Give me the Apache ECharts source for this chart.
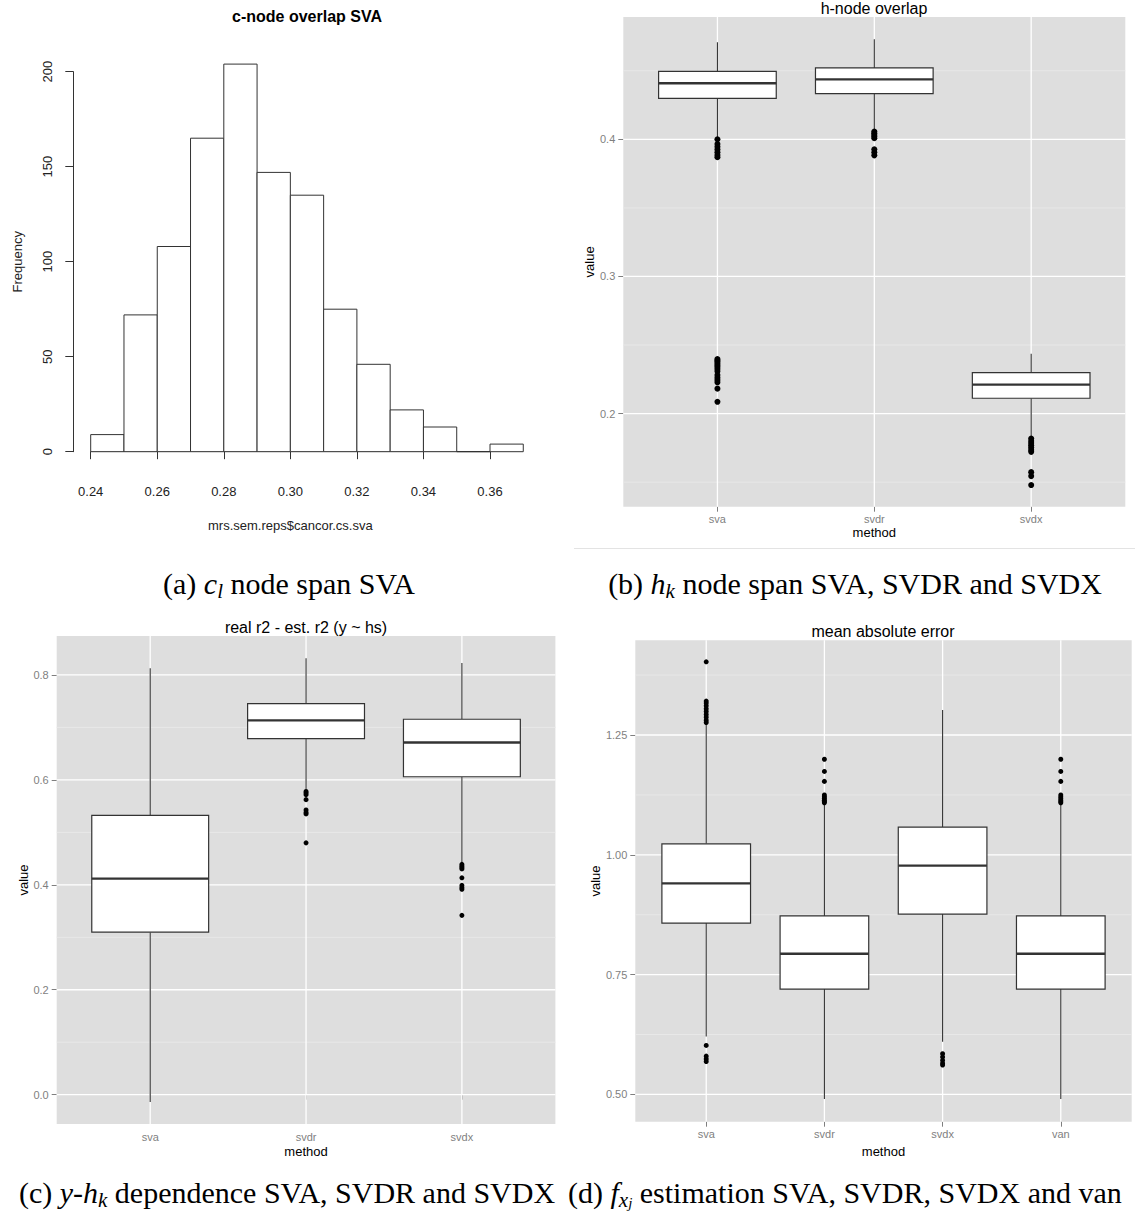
<!DOCTYPE html>
<html><head><meta charset="utf-8">
<script src="https://cdn.jsdelivr.net/npm/echarts@6/dist/echarts.min.js"></script>
<style>html,body{margin:0;padding:0;background:#fff}#c{width:1135px;height:1216px}</style>
</head><body><div id="c"></div>
<script>
// ---------- (a) histogram ----------
const histBinStarts = [0.24,0.25,0.26,0.27,0.28,0.29,0.30,0.31,0.32,0.33,0.34,0.35,0.36];
const histCounts    = [9,72,108,165,204,147,135,75,46,22,13,0,4];
const histBinWidth  = 0.01;

// ---------- (b) h-node overlap ----------
const hnodeMethods = ['sva','svdr','svdx'];
// [lower whisker, Q1, median, Q3, upper whisker]
const hnodeBoxes = [
  [0.4015, 0.4299, 0.4409, 0.4495, 0.4708],
  [0.4075, 0.4333, 0.4437, 0.4521, 0.4729],
  [0.1818, 0.2112, 0.2211, 0.2299, 0.2437]
];
const hnodeOutliers = [
  [0.4000,0.3965,0.3945,0.3925,0.3905,0.3885,0.3870,0.2398,0.2388,0.2378,0.2365,0.2352,0.2340,0.2325,0.2308,0.2281,0.2262,0.2245,0.2228,0.2182,0.2086],
  [0.4057,0.4045,0.4032,0.4020,0.4008,0.3927,0.3905,0.3883],
  [0.1818,0.1800,0.1785,0.1770,0.1752,0.1735,0.1721,0.1573,0.1544,0.1479]
];
const hnodeTicks = [0.2,0.3,0.4];
const hnodeMinor = [0.15,0.25,0.35,0.45];

// ---------- (c) real r2 - est. r2 ----------
const r2Methods = ['sva','svdr','svdx'];
const r2Boxes = [
  [-0.0142, 0.3098, 0.4120, 0.5324, 0.8130],
  [0.5820, 0.6788, 0.7135, 0.7455, 0.8320],
  [0.4419, 0.6060, 0.6713, 0.7156, 0.8230]
];
const r2Outliers = [
  [],
  [0.5780,0.5750,0.5719,0.5624,0.5427,0.5380,0.5352,0.4800],
  [0.4390,0.4360,0.4330,0.4303,0.4133,0.3990,0.3950,0.3915,0.3418]
];
const r2Ticks = [0.0,0.2,0.4,0.6,0.8];
const r2Minor = [0.1,0.3,0.5,0.7];

// ---------- (d) mean absolute error ----------
const maeMethods = ['sva','svdr','svdx','van'];
const maeBoxes = [
  [0.6207, 0.8576, 0.9402, 1.0229, 1.2720],
  [0.4904, 0.7198, 0.7935, 0.8725, 1.1050],
  [0.6096, 0.8762, 0.9775, 1.0579, 1.3021],
  [0.4904, 0.7198, 0.7935, 0.8725, 1.1050]
];
const maeOutliers = [
  [1.4027,1.3207,1.3165,1.3110,1.3050,1.2990,1.2930,1.2870,1.2810,1.2760,0.6022,0.5798,0.5740,0.5686],
  [1.1994,1.1740,1.1532,1.1249,1.1210,1.1175,1.1140,1.1110,1.1085],
  [0.5850,0.5780,0.5710,0.5650,0.5612],
  [1.1994,1.1740,1.1532,1.1249,1.1210,1.1175,1.1140,1.1110,1.1085]
];
const maeTicks = [0.50,0.75,1.00,1.25];
const maeMinor = [0.625,0.875,1.125,1.375];

// ---------- chart ----------
const SANS = 'Liberation Sans, Arial, Helvetica, sans-serif';
const SERIF = 'Liberation Serif, Times New Roman, serif';
const tickLabel = {fontFamily: SANS, fontSize: 11, color: '#7f7f7f'};
const nameStyle = {fontFamily: SANS, fontSize: 13, color: '#000'};

const grids = [
  {left: 90.7, top: 71.7, width: 399.3, height: 380},               // a
  {left: 623.3, top: 17, width: 502, height: 489.7, show: true},     // b
  {left: 56.7, top: 636.1, width: 498.7, height: 487.9, show: true}, // c
  {left: 635.3, top: 640.3, width: 496.4, height: 481.4, show: true} // d
].map(g => Object.assign({containLabel: false, outerBoundsMode: 'none', borderWidth: 0, backgroundColor: g.show ? '#dedede' : 'transparent'}, g));

const xAxes = [], yAxes = [], series = [];

// panel a
xAxes.push({
  gridIndex: 0, type: 'value', min: 0.24, max: 0.36, interval: 0.02, offset: 15.6,
  axisLine: {show: true, lineStyle: {color: '#333', width: 1}},
  axisTick: {show: true, length: 7.5, lineStyle: {color: '#333', width: 1}},
  axisLabel: {fontFamily: SANS, fontSize: 13, color: '#222', margin: 18, formatter: v => v.toFixed(2)},
  splitLine: {show: false},
  name: 'mrs.sem.reps$cancor.cs.sva', nameLocation: 'middle', nameGap: 52,
  nameTextStyle: {fontFamily: SANS, fontSize: 13, color: '#222'}
});
yAxes.push({
  gridIndex: 0, type: 'value', min: 0, max: 200, interval: 50, offset: 17.4,
  axisLine: {show: true, lineStyle: {color: '#333', width: 1}},
  axisTick: {show: true, length: 8, lineStyle: {color: '#333', width: 1}},
  axisLabel: {fontFamily: SANS, fontSize: 13, color: '#222', rotate: 90, margin: 19},
  splitLine: {show: false},
  name: 'Frequency', nameLocation: 'middle', nameGap: 49,
  nameTextStyle: {fontFamily: SANS, fontSize: 13, color: '#222'}
});
series.push({
  type: 'custom', xAxisIndex: 0, yAxisIndex: 0, clip: false, silent: true,
  data: histBinStarts.map((s, i) => [s, histCounts[i]]),
  renderItem: (params, api) => {
    const s = api.value(0), c = api.value(1);
    const p0 = api.coord([s, 0]);
    const p1 = api.coord([s + histBinWidth, c]);
    return {type: 'rect', shape: {x: p0[0], y: p1[1], width: p1[0] - p0[0], height: p0[1] - p1[1]},
      style: {fill: '#fff', stroke: '#333', lineWidth: 1}};
  }
});

function ggPanel(gi, methods, boxes, outliers, ticks, minor, decimals, yMin, yMax, o) {
  const n = methods.length;
  const pos = methods.map((m, i) => i + 1);
  xAxes.push({
    gridIndex: gi, type: 'value', min: 0.4, max: n + 0.6,
    axisLine: {show: false}, splitLine: {show: false},
    axisTick: {show: true, customValues: pos, length: 5, lineStyle: {color: '#7f7f7f', width: 1}},
    axisLabel: Object.assign({customValues: pos, margin: 7, formatter: v => methods[Math.round(v) - 1] || ''}, tickLabel),
    name: 'method', nameLocation: 'middle', nameGap: o.xNameGap, nameTextStyle: nameStyle
  });
  yAxes.push({
    gridIndex: gi, type: 'value', min: yMin, max: yMax,
    axisLine: {show: false}, splitLine: {show: false},
    axisTick: {show: true, customValues: ticks, length: 5, lineStyle: {color: '#7f7f7f', width: 1}},
    axisLabel: Object.assign({customValues: ticks, margin: 8, formatter: v => v.toFixed(decimals)}, tickLabel),
    name: 'value', nameLocation: 'middle', nameGap: o.yNameGap, nameTextStyle: nameStyle
  });
  const gridItems = [].concat(minor.map(v => [1, v, 0]), ticks.map(v => [1, v, 1]), pos.map(p => [p, yMin, 2]));
  series.push({
    type: 'custom', xAxisIndex: gi, yAxisIndex: gi, z: 1, silent: true, data: gridItems,
    renderItem: (params, api) => {
      const cs = params.coordSys;
      const kind = api.value(2);
      if (kind === 2) {
        const x = api.coord([api.value(0), yMin])[0];
        return {type: 'line', shape: {x1: x, y1: cs.y, x2: x, y2: cs.y + cs.height}, style: {stroke: '#fff', lineWidth: 1.3}};
      }
      const y = api.coord([1, api.value(1)])[1];
      return {type: 'line', shape: {x1: cs.x, y1: y, x2: cs.x + cs.width, y2: y},
        style: {stroke: kind === 1 ? '#fff' : '#e9e9e9', lineWidth: kind === 1 ? 1.3 : 0.9}};
    }
  });
  series.push({
    type: 'custom', xAxisIndex: gi, yAxisIndex: gi, z: 2, silent: true,
    data: boxes.map((b, i) => [i + 1].concat(b)),
    renderItem: (params, api) => {
      const x = api.value(0);
      const lo = api.coord([x, api.value(1)]), q1 = api.coord([x, api.value(2)]),
            md = api.coord([x, api.value(3)]), q3 = api.coord([x, api.value(4)]),
            hi = api.coord([x, api.value(5)]);
      const hw = api.size([0.75, 0])[0] / 2;
      const cx = lo[0];
      const ln = {stroke: '#333', lineWidth: 1.1};
      return {type: 'group', children: [
        {type: 'line', shape: {x1: cx, y1: hi[1], x2: cx, y2: q3[1]}, style: ln},
        {type: 'line', shape: {x1: cx, y1: q1[1], x2: cx, y2: lo[1]}, style: ln},
        {type: 'rect', shape: {x: cx - hw, y: q3[1], width: 2 * hw, height: q1[1] - q3[1]}, style: {fill: '#fff', stroke: '#333', lineWidth: 1.2}},
        {type: 'line', shape: {x1: cx - hw, y1: md[1], x2: cx + hw, y2: md[1]}, style: {stroke: '#333', lineWidth: 2.3}}
      ]};
    }
  });
  series.push({
    type: 'scatter', xAxisIndex: gi, yAxisIndex: gi, z: 3, silent: true,
    symbol: 'circle', symbolSize: o.dot, itemStyle: {color: '#000', opacity: 1},
    data: outliers.flatMap((arr, i) => arr.map(v => [i + 1, v]))
  });
}

ggPanel(1, hnodeMethods, hnodeBoxes, hnodeOutliers, hnodeTicks, hnodeMinor, 1, 0.1321, 0.4892, {xNameGap: 19, yNameGap: 25, dot: 6});
ggPanel(2, r2Methods, r2Boxes, r2Outliers, r2Ticks, r2Minor, 1, -0.0559, 0.8741, {xNameGap: 20.5, yNameGap: 24.5, dot: 5});
ggPanel(3, maeMethods, maeBoxes, maeOutliers, maeTicks, maeMinor, 2, 0.443, 1.4476, {xNameGap: 23, yNameGap: 31, dot: 5});

function txt(text, x, y, font, align) {
  return {type: 'text', x: x, y: y, silent: true,
    style: {text: text, font: font, fill: '#000', align: align || 'center', verticalAlign: 'middle'}};
}
const CAPSIZE = 30;
const capRich = {
  m: {fontFamily: SERIF, fontSize: CAPSIZE, fontStyle: 'italic', lineHeight: 36},
  s: {fontFamily: SERIF, fontSize: 21, fontStyle: 'italic', lineHeight: 22, verticalAlign: 'bottom'},
  ss: {fontFamily: SERIF, fontSize: 15, fontStyle: 'italic', lineHeight: 13, verticalAlign: 'bottom'}
};
function cap(text, x, y, align) {
  return {type: 'text', x: x, y: y, silent: true,
    style: {text: text, fontFamily: SERIF, fontSize: CAPSIZE, lineHeight: 36, fill: '#000',
      align: align || 'center', verticalAlign: 'middle', rich: capRich}};
}

const graphics = [
  txt('c-node overlap SVA', 307, 16, 'bold 16px ' + SANS),
  txt('h-node overlap', 874, 8, '16px ' + SANS),
  txt('real r2 - est. r2 (y ~ hs)', 306, 627, '16px ' + SANS),
  txt('mean absolute error', 883, 631, '16px ' + SANS),
  {type: 'line', silent: true, shape: {x1: 574, y1: 548.5, x2: 1135, y2: 548.5}, style: {stroke: '#e3e3e3', lineWidth: 1}},
  cap('(a) {m|c}{s|l} node span SVA', 289, 583),
  cap('(b) {m|h}{s|k} node span SVA, SVDR and SVDX', 855, 583),
  cap('(c) {m|y}-{m|h}{s|k} dependence SVA, SVDR and SVDX', 287, 1192),
  cap('(d) {m|f}{s|x}{ss|j} estimation SVA, SVDR, SVDX and van', 568, 1192, 'left')
];

const chart = echarts.init(document.getElementById('c'), null, {renderer: 'svg', width: 1135, height: 1216});
chart.setOption({
  animation: false,
  backgroundColor: '#fff',
  grid: grids,
  xAxis: xAxes,
  yAxis: yAxes,
  series: series,
  graphic: graphics
});
</script></body></html>
